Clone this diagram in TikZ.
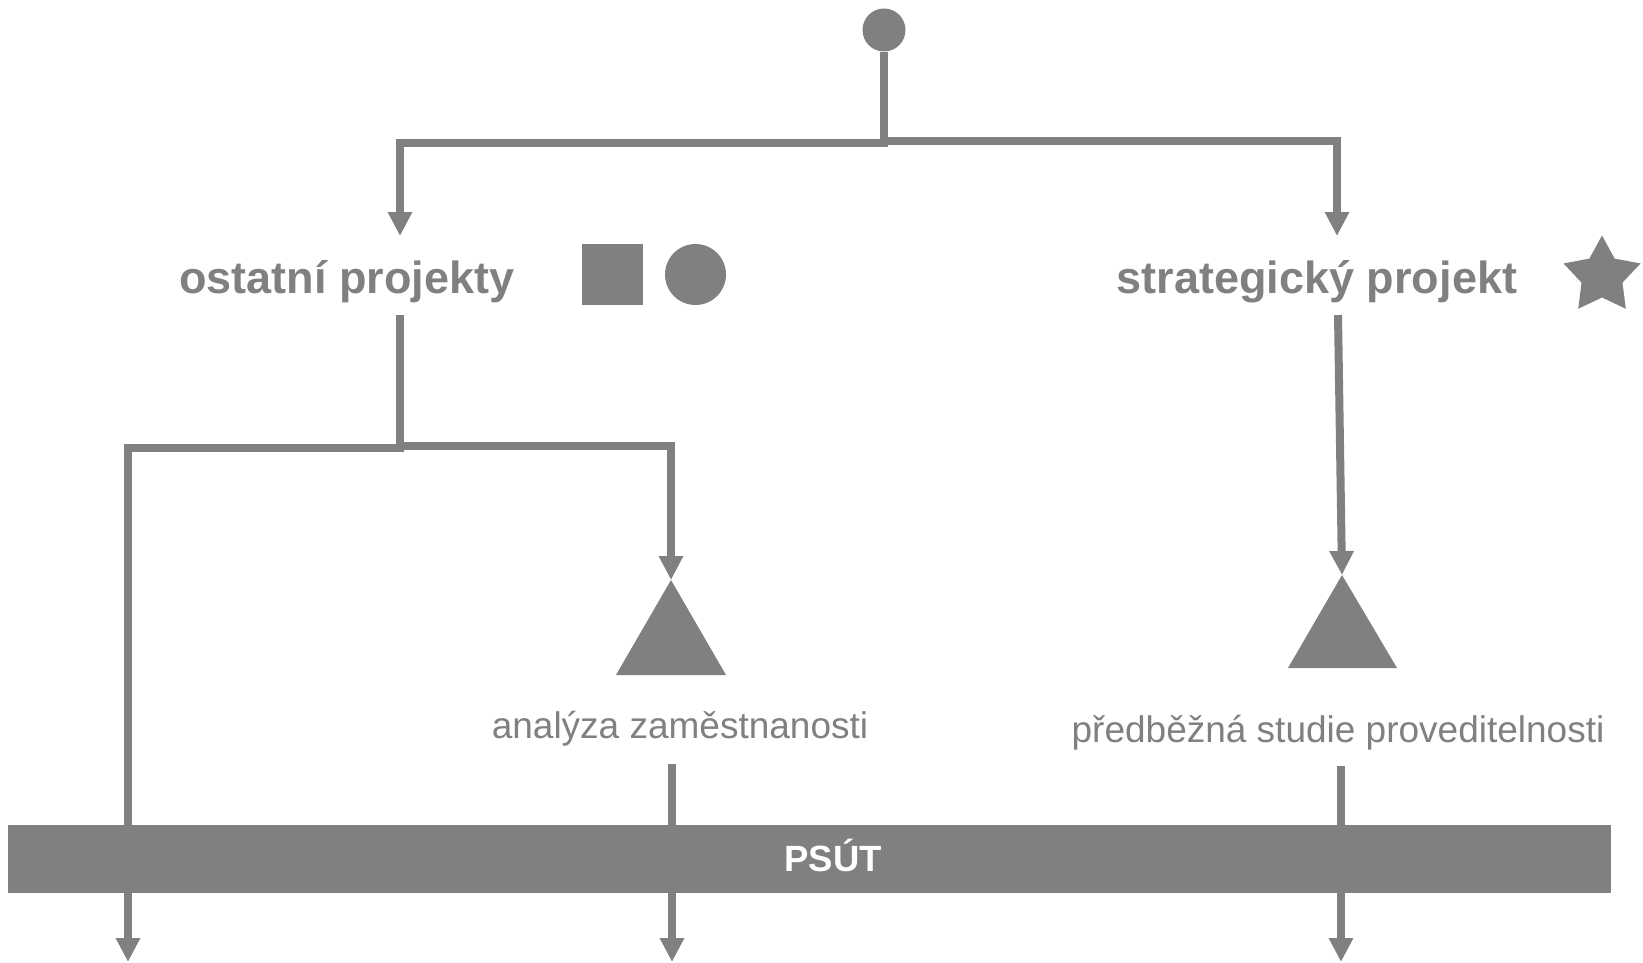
\documentclass[tikz,border=0pt]{standalone}
\usepackage{fontspec}
\setmainfont{Liberation Sans}
\usetikzlibrary{arrows.meta,calc}
\definecolor{ink}{RGB}{128,128,128}
\begin{document}
\begin{tikzpicture}[x=1pt,y=-1pt,
  conn/.style={draw=ink,line width=8pt},
  arr/.style={conn,-{Triangle[width=23pt,length=24pt]}},
  headbold/.style={font=\fontsize{45}{54}\selectfont\bfseries,text=ink,anchor=base,inner sep=0pt},
  lbl/.style={font=\fontsize{37}{44}\selectfont,text=ink,anchor=base,inner sep=0pt},
  bartext/.style={font=\fontsize{36.5}{44}\selectfont\bfseries,text=white,anchor=base,inner sep=0pt},
  dot/.style={circle,fill=ink,inner sep=0pt},
  sq/.style={rectangle,fill=ink,inner sep=0pt},
  bar/.style={rectangle,fill=ink,inner sep=0pt,minimum width=1603pt,minimum height=68pt}]
\useasboundingbox (0,0) rectangle (1643,963);

% top dot
\node[dot,minimum size=43pt] (start) at (884,30) {};

% headings and markers
\node[headbold] (ost) at (347,293) {ostatní projekty};
\node[sq,minimum size=61pt] (msq) at (612.5,274.5) {};
\node[dot,minimum size=61pt] (mci) at (695.5,274.5) {};
\node[headbold] (str) at (1317,293) {strategický projekt};
\fill[ink,shift={(1602,276)}] (270:40.5)
  \foreach \k in {0,...,4} { -- (270+72*\k:40.5) -- (306+72*\k:21.5) } -- cycle;

% entry / exit points
\coordinate (ostin) at (400,236);
\coordinate (strin) at (1337,236);
\coordinate (ostout) at (400,315);
\coordinate (strout) at (1338,315);

% triangles
\coordinate (t1) at (671,580);
\fill[ink] (t1) -- (726,675) -- (616,675) -- cycle;
\coordinate (t2) at (1342,575);
\fill[ink] (t2) -- (1397,668) -- (1288,668) -- cycle;

% labels
\node[lbl] (ana) at (680,738) {analýza zaměstnanosti};
\node[lbl] (pred) at (1338,742) {předběžná studie proveditelnosti};
\coordinate (anaout) at (672,764);
\coordinate (predout) at (1341,766);

% connectors
\draw[arr] (start) -- (884,143) -| (ostin);
\draw[arr] (start) -- (884,141) -| (strin);
\draw[conn] (ostout) -- (400,448) -| (128,830);
\draw[arr] (ostout) -- (400,446) -| (t1);
\draw[arr] (strout) -- (t2);
\draw[conn] (anaout) -- (672,830);
\draw[conn] (predout) -- (1341,830);

% bar
\node[bar] (psut) at (809.5,859) {};
\node[bartext] (psutlbl) at (833,871) {PSÚT};

\coordinate (e1) at (128,962);
\coordinate (e2) at (672,962);
\coordinate (e3) at (1341,962);
\draw[arr] (e1 |- psut.south) -- (e1);
\draw[arr] (e2 |- psut.south) -- (e2);
\draw[arr] (e3 |- psut.south) -- (e3);
\end{tikzpicture}
\end{document}
